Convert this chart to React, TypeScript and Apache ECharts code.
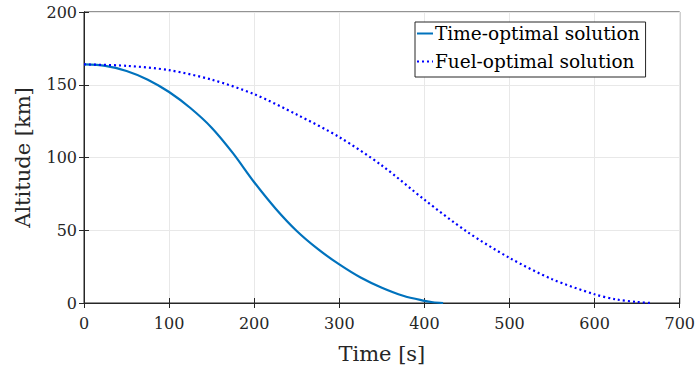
import React, { useEffect, useRef } from "react";
import * as echarts from "echarts";

const timeOptT = [0, 25, 50, 75, 100, 125, 150, 175, 200, 225, 250, 275, 300, 325, 350, 375, 400, 410, 422];
const timeOptH = [164, 163, 159.5, 153.5, 145, 134, 120.5, 103, 83, 65, 49.5, 37, 26.5, 17.5, 10.5, 5, 1.5, 0.5, 0];
const fuelOptT = [0, 50, 100, 150, 200, 250, 300, 350, 400, 450, 500, 550, 600, 625, 650, 667];
const fuelOptH = [164, 163, 160, 153.5, 143.5, 129.5, 114, 94.5, 71, 49, 31, 16.4, 6, 2.5, 0.7, 0];
const xTicks = [0, 100, 200, 300, 400, 500, 600, 700];
const yTicks = [0, 50, 100, 150, 200];

const FONT = "DejaVu Serif";
const AX = "#262626";

export default function App() {
  const ref = useRef<HTMLDivElement>(null);
  useEffect(() => {
    const chart = echarts.init(ref.current!, null, { renderer: "svg" });
    const pair = (t: number[], h: number[]) => t.map((v, i) => [v, h[i]]);
    chart.setOption({
      animation: false,
      backgroundColor: "#ffffff",
      textStyle: { fontFamily: FONT },
      grid: { left: 84, right: 17, top: 12, bottom: 68, show: true, borderColor: AX, borderWidth: 1 },
      legend: {
        left: 415,
        top: 22,
        orient: "vertical",
        itemWidth: 16,
        itemHeight: 10,
        itemGap: 9,
        padding: [2, 6, 6, 1],
        borderColor: AX,
        borderWidth: 1,
        borderRadius: 0,
        backgroundColor: "#fff",
        itemStyle: { opacity: 0 },
        textStyle: { fontFamily: FONT, fontSize: 18.5, color: "#000", padding: [0, 0, 0, -3] },
        data: ["Time-optimal solution", "Fuel-optimal solution"],
      },
      xAxis: [
        {
          type: "value",
          min: 0,
          max: 700,
          interval: 100,
          name: "Time [s]",
          nameLocation: "middle",
          nameGap: 40,
          nameTextStyle: { fontFamily: FONT, fontSize: 21, color: "#262626" },
          axisLine: { show: true, lineStyle: { color: AX } },
          axisTick: { show: true, inside: true, length: 5, lineStyle: { color: AX } },
          axisLabel: { fontFamily: FONT, fontSize: 16, color: "#262626", margin: 12, customValues: xTicks },
          splitLine: { show: true, lineStyle: { color: "#e8e8e8" } },
        },
        {
          type: "value",
          position: "top",
          min: 0,
          max: 700,
          interval: 100,
          axisLine: { show: true, lineStyle: { color: AX } },
          axisTick: { show: true, inside: true, length: 5, lineStyle: { color: AX } },
          axisLabel: { show: false },
          splitLine: { show: false },
        },
      ],
      yAxis: [
        {
          type: "value",
          min: 0,
          max: 200,
          interval: 50,
          name: "Altitude [km]",
          nameLocation: "middle",
          nameGap: 51,
          nameTextStyle: { fontFamily: FONT, fontSize: 21, color: "#262626" },
          axisLine: { show: true, lineStyle: { color: AX } },
          axisTick: { show: true, inside: true, length: 5, lineStyle: { color: AX } },
          axisLabel: { fontFamily: FONT, fontSize: 16, color: "#262626", margin: 7, customValues: yTicks },
          splitLine: { show: true, lineStyle: { color: "#e8e8e8" } },
        },
        {
          type: "value",
          position: "right",
          min: 0,
          max: 200,
          interval: 50,
          axisLine: { show: true, lineStyle: { color: AX } },
          axisTick: { show: true, inside: true, length: 5, lineStyle: { color: AX } },
          axisLabel: { show: false },
          splitLine: { show: false },
        },
      ],
      series: [
        {
          name: "Time-optimal solution",
          type: "line",
          data: pair(timeOptT, timeOptH),
          smooth: 0.3,
          symbol: "none",
          color: "#0072BD",
          lineStyle: { width: 2.2, color: "#0072BD" },
        },
        {
          name: "Fuel-optimal solution",
          type: "line",
          data: pair(fuelOptT, fuelOptH),
          smooth: 0.3,
          symbol: "none",
          color: "#0000FF",
          lineStyle: { width: 2.2, color: "#0000FF", type: [2, 3] },
        },
      ],
    });
    return () => chart.dispose();
  }, []);
  return <div ref={ref} style={{ width: 698, height: 371, position: "absolute", left: 0, top: 0 }} />;
}
